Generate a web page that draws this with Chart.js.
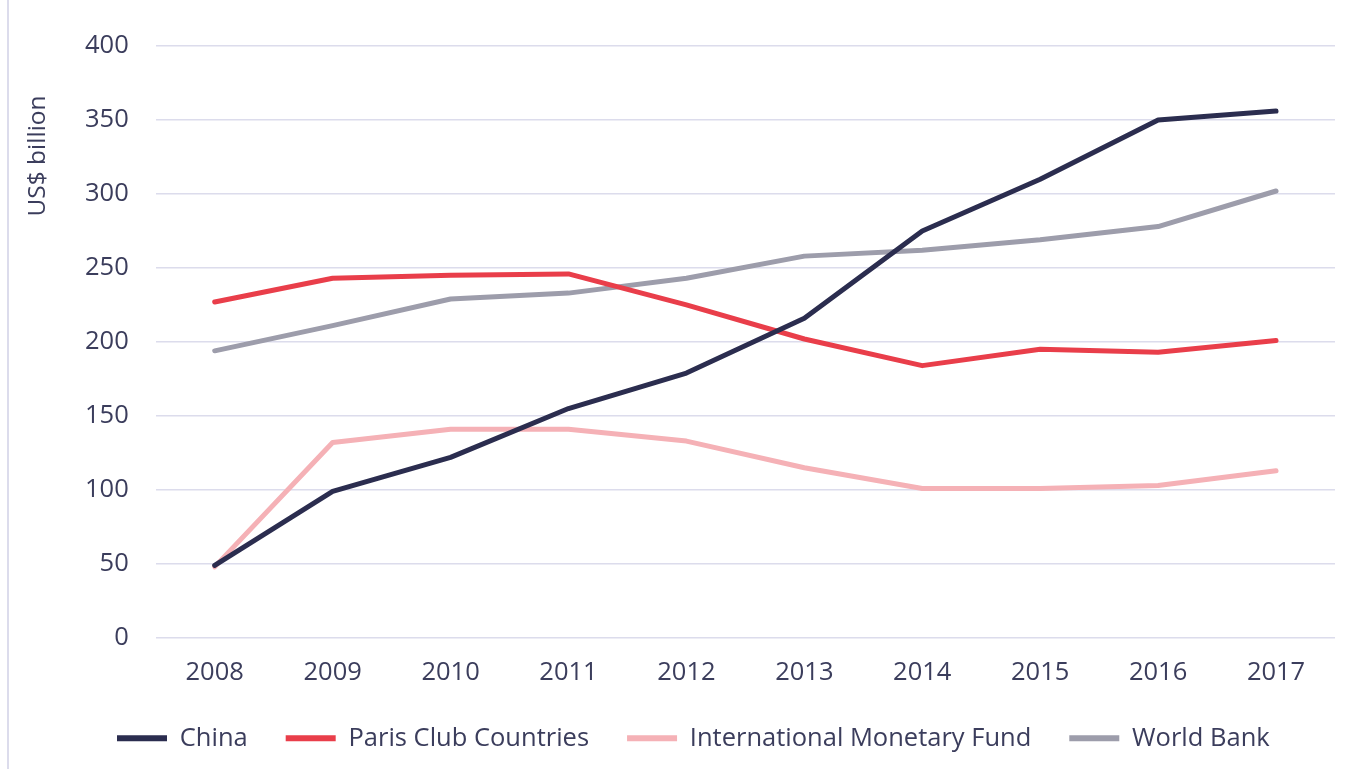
<!DOCTYPE html>
<html>
<head>
<meta charset="utf-8">
<script src="https://cdn.jsdelivr.net/npm/chart.js@4/dist/chart.umd.min.js"></script>
<style>
html,body{margin:0;padding:0;background:#fff;}
#wrap{position:relative;width:1360px;height:769px;}
#wrap:before{content:"";position:absolute;left:7px;top:0;width:2px;height:769px;background:#dcdcec;}
</style>
</head>
<body>
<div id="wrap"><canvas id="c" width="1360" height="769"></canvas></div>
<script>
const years = ['2008','2009','2010','2011','2012','2013','2014','2015','2016','2017'];
const china = [49, 99, 122, 155, 179, 216, 275, 310, 350, 356];
const parisClub = [227, 243, 245, 246, 225, 202, 184, 195, 193, 201];
const imf = [48, 132, 141, 141, 133, 115, 101, 101, 103, 113];
const worldBank = [194, 211, 229, 233, 243, 258, 262, 269, 278, 302];
const yTitle = 'US$ billion';

const textColor = '#3b3d5c';
const fontFamily = '"Open Sans", sans-serif';
const fs = 25.5;

const yTitlePlugin = {
  id: 'yTitle',
  afterDraw(chart) {
    const ctx = chart.ctx;
    ctx.save();
    ctx.translate(38, 156);
    ctx.rotate(-Math.PI / 2);
    ctx.font = '24.5px ' + fontFamily;
    ctx.fillStyle = textColor;
    ctx.textAlign = 'center';
    ctx.textBaseline = 'middle';
    ctx.fillText(yTitle, 0, 0);
    ctx.restore();
  }
};

function ds(label, data, color) {
  return {label, data, borderColor: color, backgroundColor: color, borderWidth: 5,
    pointRadius: 0, pointHoverRadius: 0, tension: 0, fill: false,
    borderCapStyle: 'round', borderJoinStyle: 'round'};
}

new Chart(document.getElementById('c'), {
  type: 'line',
  data: {
    labels: years,
    datasets: [
      ds('China', china, '#2b2d4f'),
      ds('Paris Club Countries', parisClub, '#e93e4a'),
      ds('International Monetary Fund', imf, '#f5b1b6'),
      ds('World Bank', worldBank, '#9d9dab')
    ]
  },
  options: {
    responsive: false,
    animation: false,
    layout: {padding: {left: 79, right: 25, top: 46, bottom: 8}},
    plugins: {
      legend: {
        position: 'bottom',
        align: 'start',
        labels: {
          color: textColor,
          font: {family: fontFamily, size: fs},
          boxWidth: 50,
          boxHeight: 6,
          padding: 38,
          generateLabels(chart) {
            return chart.data.datasets.map((d, i) => ({
              text: d.label, fillStyle: d.borderColor, strokeStyle: d.borderColor,
              lineWidth: 0, datasetIndex: i, fontColor: textColor
            }));
          }
        }
      },
      tooltip: {enabled: false}
    },
    scales: {
      x: {
        offset: true,
        grid: {display: false},
        border: {display: false},
        ticks: {color: textColor, font: {family: fontFamily, size: fs}, padding: 12, maxRotation: 0},
        afterFit(scale) { scale.height -= 13; }
      },
      y: {
        min: 0, max: 400,
        grid: {color: '#dcdcec', lineWidth: 1.5, drawTicks: false},
        border: {display: false},
        ticks: {stepSize: 50, color: textColor, font: {family: fontFamily, size: fs}, padding: 27},
        afterFit(scale) { scale.width -= 21; }
      }
    }
  },
  plugins: [yTitlePlugin]
});
</script>
</body>
</html>
